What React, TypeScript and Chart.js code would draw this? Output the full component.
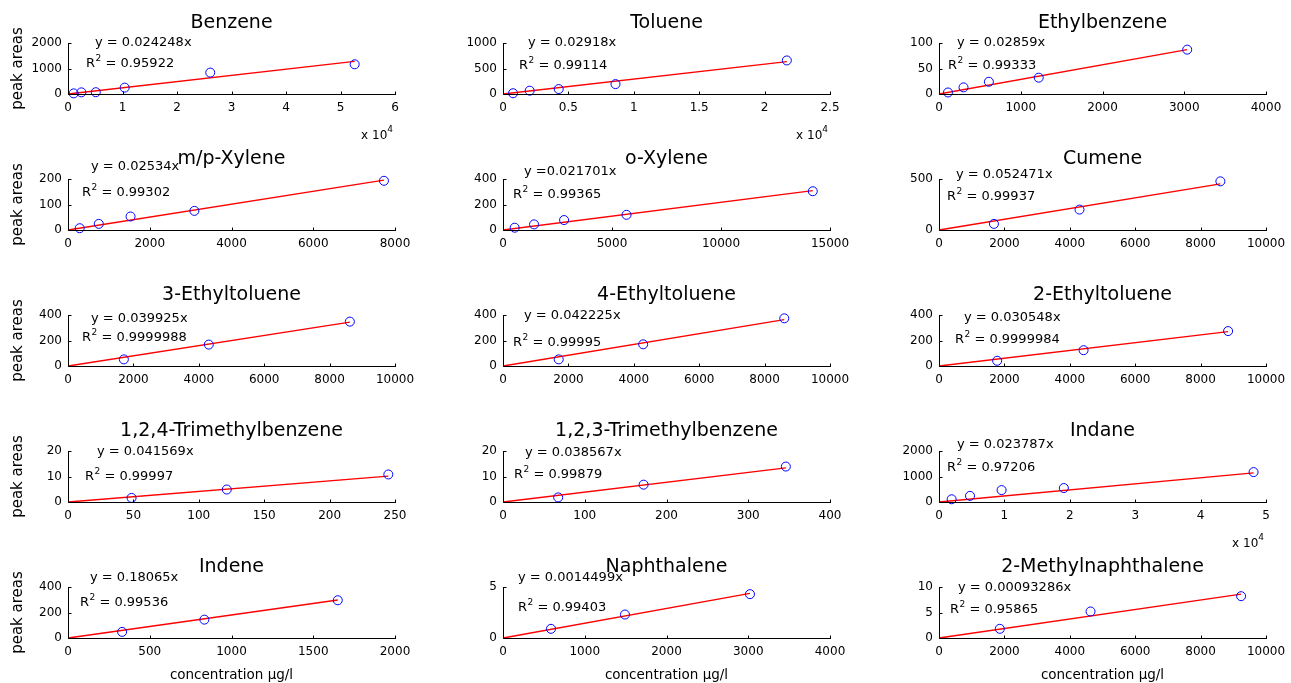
import React, { useEffect, useRef } from "react";
import { Chart, registerables } from "chart.js";
Chart.register(...registerables);

// ---------- data ----------
const TITLES = [
  "Benzene", "Toluene", "Ethylbenzene",
  "m/p-Xylene", "o-Xylene", "Cumene",
  "3-Ethyltoluene", "4-Ethyltoluene", "2-Ethyltoluene",
  "1,2,4-Trimethylbenzene", "1,2,3-Trimethylbenzene", "Indane",
  "Indene", "Naphthalene", "2-Methylnaphthalene",
];

const SLOPES = [0.024248, 0.02918, 0.02859, 0.02534, 0.021701, 0.052471, 0.039925, 0.042225, 0.030548, 0.041569, 0.038567, 0.023787, 0.18065, 0.0014499, 0.00093286];
const EQ_TEXT = ["y = 0.024248x", "y = 0.02918x", "y = 0.02859x", "y = 0.02534x", "y =0.021701x", "y = 0.052471x", "y = 0.039925x", "y = 0.042225x", "y = 0.030548x", "y = 0.041569x", "y = 0.038567x", "y = 0.023787x", "y = 0.18065x", "y = 0.0014499x", "y = 0.00093286x"];
const R2_TEXT = ["0.95922", "0.99114", "0.99333", "0.99302", "0.99365", "0.99937", "0.9999988", "0.99995", "0.9999984", "0.99997", "0.99879", "0.97206", "0.99536", "0.99403", "0.95865"];

const benzeneX = [1040, 2450, 5100, 10400, 26100, 52600];
const benzeneY = [25, 65, 70, 250, 840, 1165];
const tolueneX = [770, 2040, 4260, 8600, 21700];
const tolueneY = [15, 65, 97, 194, 658];
const ethylbenzeneX = [110, 300, 610, 1220, 3036];
const ethylbenzeneY = [3, 13, 24, 32, 87];
const mpXyleneX = [286, 753, 1530, 3092, 7730];
const mpXyleneY = [7, 24, 53, 75, 193];
const oXyleneX = [536, 1424, 2802, 5666, 14210];
const oXyleneY = [18, 44, 78, 119, 304];
const cumeneX = [1680, 4297, 8605];
const cumeneY = [60, 200, 477];
const ethyltoluene3X = [1708, 4305, 8620];
const ethyltoluene3Y = [52, 168, 348];
const ethyltoluene4X = [1704, 4286, 8602];
const ethyltoluene4Y = [52, 170, 374];
const ethyltoluene2X = [1778, 4421, 8841];
const ethyltoluene2Y = [41, 124, 274];
const tmb124X = [48.6, 121.4, 244.9];
const tmb124Y = [1.6, 4.9, 10.8];
const tmb123X = [67.5, 172, 346];
const tmb123Y = [1.8, 6.8, 13.9];
const indaneX = [1935, 4740, 9570, 19090, 48100];
const indaneY = [107, 240, 467, 547, 1173];
const indeneX = [331, 834, 1650];
const indeneY = [48, 144, 296];
const naphthaleneX = [587, 1492, 3021];
const naphthaleneY = [0.9, 2.3, 4.3];
const methylnaphX = [1860, 4634, 9238];
const methylnaphY = [1.8, 5.2, 8.2];

const X_DATA = [benzeneX, tolueneX, ethylbenzeneX, mpXyleneX, oXyleneX, cumeneX, ethyltoluene3X, ethyltoluene4X, ethyltoluene2X, tmb124X, tmb123X, indaneX, indeneX, naphthaleneX, methylnaphX];
const Y_DATA = [benzeneY, tolueneY, ethylbenzeneY, mpXyleneY, oXyleneY, cumeneY, ethyltoluene3Y, ethyltoluene4Y, ethyltoluene2Y, tmb124Y, tmb123Y, indaneY, indeneY, naphthaleneY, methylnaphY];

const X_MAX = [60000, 25000, 4000, 8000, 15000, 10000, 10000, 10000, 10000, 250, 400, 50000, 2000, 4000, 10000];
const X_STEP = [10000, 5000, 1000, 2000, 5000, 2000, 2000, 2000, 2000, 50, 100, 10000, 500, 1000, 2000];
const X_EXP = [4, 4, 0, 0, 0, 0, 0, 0, 0, 0, 0, 4, 0, 0, 0];
const Y_MAX = [2000, 1000, 100, 200, 400, 500, 400, 400, 400, 20, 20, 2000, 400, 5, 10];
const Y_STEP = [1000, 500, 50, 100, 200, 500, 200, 200, 200, 10, 10, 1000, 200, 5, 5];

const X_LABEL = "concentration µg/l";
const Y_LABEL = "peak areas";

// ---------- layout (pixels) ----------
const COL_LEFT = [68, 503, 939];
const ROW_TOP = [43, 179, 315, 451, 587];
const PLOT_W = 327;
const PLOT_H = 51;
const PAD_L = 68, PAD_T = 43, PAD_R = 25, PAD_B = 50;
const CW = PAD_L + PLOT_W + PAD_R;
const CH = PAD_T + PLOT_H + PAD_B;
// annotation offsets relative to plot top-left: [eqDx, eqDy, r2Dx, r2Dy]
const ANNOT_POS = [
  [27, 0, 18, 21], [25, 0, 16, 23], [18, 0, 9, 23],
  [23, -12, 14, 14], [21, -7, 10, 16], [17, -4, 8, 18],
  [23, 4, 14, 23], [21, 1, 10, 28], [25, 3, 16, 25],
  [29, 1, 17, 26], [22, 2, 11, 24], [18, -6, 8, 17],
  [22, -9, 12, 16], [15, -9, 15, 21], [19, 1, 11, 23],
];

const FONT = '"DejaVu Sans", Arial, sans-serif';

function ticksFor(max: number, step: number) {
  const out: number[] = [];
  for (let v = 0; v <= max + 1e-9; v += step) out.push(Math.round(v * 1e6) / 1e6);
  return out;
}

function makeDecor(i: number) {
  const r = Math.floor(i / 3), c = i % 3;
  return {
    id: "decor" + i,
    afterDatasetsDraw(chart: any) {
      const ctx = chart.ctx as CanvasRenderingContext2D;
      const { left, right, top, bottom } = chart.chartArea;
      const xs = chart.scales.x, ys = chart.scales.y;
      ctx.save();
      ctx.strokeStyle = "#000";
      ctx.lineWidth = 1;
      ctx.beginPath();
      const L = Math.round(left) + 0.5;
      const B = Math.round(bottom) + 0.5;
      ctx.moveTo(L, Math.round(top));
      ctx.lineTo(L, B);
      ctx.lineTo(Math.round(right) + 1, B);
      for (const v of ticksFor(X_MAX[i], X_STEP[i])) {
        const px = Math.round(xs.getPixelForValue(v)) + 0.5;
        ctx.moveTo(px, B);
        ctx.lineTo(px, B - 3);
      }
      for (const v of ticksFor(Y_MAX[i], Y_STEP[i])) {
        const py = Math.round(ys.getPixelForValue(v)) + 0.5;
        ctx.moveTo(L, py);
        ctx.lineTo(L + 3, py);
      }
      ctx.stroke();

      ctx.fillStyle = "#000";
      // title
      ctx.font = `19px ${FONT}`;
      ctx.textAlign = "center";
      ctx.textBaseline = "middle";
      ctx.fillText(TITLES[i], (left + right) / 2, top - 20);

      // equation
      const [ex, ey, rx, ry] = ANNOT_POS[i];
      ctx.font = `13px ${FONT}`;
      ctx.textAlign = "left";
      ctx.fillText(EQ_TEXT[i], left + ex, top + ey);
      // R^2
      let x = left + rx;
      ctx.fillText("R", x, top + ry);
      x += ctx.measureText("R").width;
      ctx.font = `9px ${FONT}`;
      ctx.fillText("2", x + 0.5, top + ry - 5);
      x += ctx.measureText("2").width + 0.5;
      ctx.font = `13px ${FONT}`;
      ctx.fillText(" = " + R2_TEXT[i], x, top + ry);

      // exponent label
      if (X_EXP[i]) {
        ctx.font = `9px ${FONT}`;
        const sup = String(X_EXP[i]);
        const sw = ctx.measureText(sup).width;
        ctx.textAlign = "right";
        ctx.fillText(sup, right - 2, bottom + 36);
        ctx.font = `12px ${FONT}`;
        ctx.fillText("x 10", right - 2 - sw, bottom + 42);
      }

      // axis labels
      if (c === 0) {
        ctx.save();
        ctx.font = `15px ${FONT}`;
        ctx.textAlign = "center";
        ctx.textBaseline = "middle";
        ctx.translate(18, (top + bottom) / 2);
        ctx.rotate(-Math.PI / 2);
        ctx.fillText(Y_LABEL, 0, 0);
        ctx.restore();
      }
      if (r === 4) {
        ctx.font = `13.5px ${FONT}`;
        ctx.textAlign = "center";
        ctx.textBaseline = "middle";
        ctx.fillText(X_LABEL, (left + right) / 2, bottom + 37);
      }
      ctx.restore();
    },
  };
}

function fmt(v: number) {
  return String(Math.round(v * 1000) / 1000);
}

function Panel({ i }: { i: number }) {
  const ref = useRef<HTMLCanvasElement>(null);
  const r = Math.floor(i / 3), c = i % 3;
  const left = COL_LEFT[c] - PAD_L;
  const top = ROW_TOP[r] - PAD_T;
  useEffect(() => {
    const xd = X_DATA[i], yd = Y_DATA[i];
    const xEnd = Math.max(...xd);
    const div = Math.pow(10, X_EXP[i]);
    const chart = new Chart(ref.current as HTMLCanvasElement, {
      type: "scatter",
      data: {
        datasets: [
          {
            data: xd.map((x, k) => ({ x, y: yd[k] })),
            borderColor: "#0000ff",
            backgroundColor: "rgba(0,0,0,0)",
            pointRadius: 4.5,
            pointBorderWidth: 1,
            pointStyle: "circle",
            showLine: false,
            clip: false,
          } as any,
          {
            data: [{ x: 0, y: 0 }, { x: xEnd, y: SLOPES[i] * xEnd }],
            borderColor: "#ff0000",
            borderWidth: 1.3,
            pointRadius: 0,
            showLine: true,
            clip: false,
          } as any,
        ],
      },
      options: {
        responsive: false,
        animation: false,
        devicePixelRatio: 1,
        events: [],
        layout: { padding: { left: 0, top: PAD_T, right: PAD_R, bottom: 0 } },
        plugins: { legend: { display: false }, title: { display: false }, tooltip: { enabled: false } },
        scales: {
          x: {
            type: "linear",
            min: 0,
            max: X_MAX[i],
            grid: { display: false, drawTicks: false },
            border: { display: false },
            afterBuildTicks: (s: any) => { s.ticks = ticksFor(X_MAX[i], X_STEP[i]).map((v) => ({ value: v })); },
            afterFit: (s: any) => { s.height = PAD_B; s.paddingLeft = 0; s.paddingRight = 0; },
            ticks: {
              autoSkip: false,
              maxRotation: 0,
              padding: 7,
              color: "#000",
              font: { family: FONT, size: 12 },
              callback: (v: any) => fmt(Number(v) / div),
            },
          },
          y: {
            type: "linear",
            min: 0,
            max: Y_MAX[i],
            grid: { display: false, drawTicks: false },
            border: { display: false },
            afterBuildTicks: (s: any) => { s.ticks = ticksFor(Y_MAX[i], Y_STEP[i]).map((v) => ({ value: v })); },
            afterFit: (s: any) => { s.width = PAD_L; s.paddingTop = 0; s.paddingBottom = 0; },
            ticks: {
              autoSkip: false,
              padding: 6,
              color: "#000",
              font: { family: FONT, size: 12 },
              callback: (v: any) => fmt(Number(v)),
            },
          },
        },
      } as any,
      plugins: [makeDecor(i)],
    });
    return () => chart.destroy();
  }, [i]);
  return (
    <canvas
      ref={ref}
      width={CW}
      height={CH}
      style={{ position: "absolute", left, top, width: CW, height: CH }}
    />
  );
}

export default function App() {
  return (
    <div style={{ position: "absolute", left: 0, top: 0, width: 1291, height: 683, overflow: "hidden", background: "#fff" }}>
      {TITLES.map((_, i) => (
        <Panel key={i} i={i} />
      ))}
    </div>
  );
}
